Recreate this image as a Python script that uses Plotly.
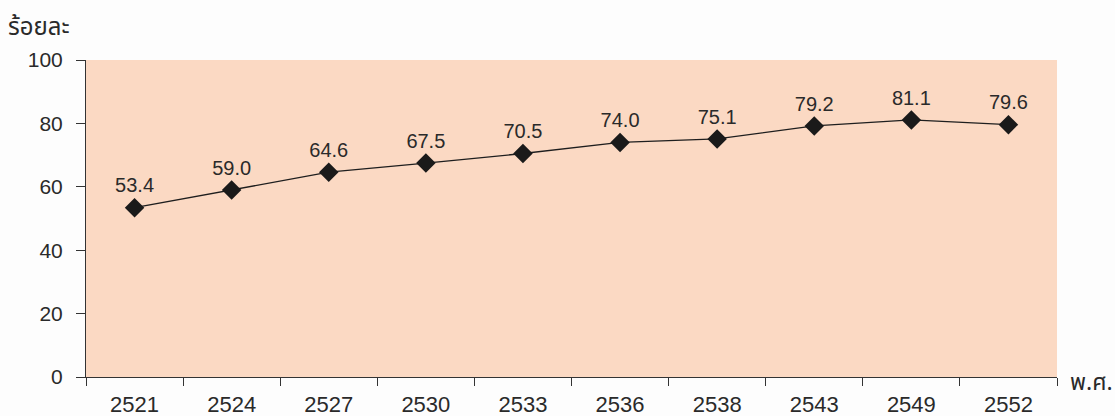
import plotly.graph_objects as go

years = ["2521", "2524", "2527", "2530", "2533", "2536", "2538", "2543", "2549", "2552"]
values = [53.4, 59.0, 64.6, 67.5, 70.5, 74.0, 75.1, 79.2, 81.1, 79.6]
labels = ["53.4", "59.0", "64.6", "67.5", "70.5", "74.0", "75.1", "79.2", "81.1", "79.6"]
y_ticks = [0, 20, 40, 60, 80, 100]

fig = go.Figure()
fig.add_trace(go.Scatter(
    x=years, y=values, mode="lines+markers+text",
    text=labels, textposition="top center",
    textfont=dict(size=20, color="#2a2a2a", family="Liberation Sans, Arial, sans-serif"),
    line=dict(color="#1e1e1e", width=1.3),
    marker=dict(symbol="diamond", size=15, color="#1a1a1a"),
    cliponaxis=False, showlegend=False,
))

fig.update_layout(
    width=1115, height=416,
    margin=dict(l=86, r=58, t=60, b=39),
    paper_bgcolor="#fdfdfd", plot_bgcolor="#fbd9c3",
    font=dict(family="Liberation Sans, Arial, sans-serif", size=20, color="#2a2a2a"),
    xaxis=dict(type="category", range=[-0.5, 9.5], tickson="boundaries",
               ticks="outside", ticklen=8, tickcolor="#333",
               showline=True, linecolor="#333", linewidth=1,
               showgrid=False, tickfont=dict(size=22), automargin=False,
               ticklabelstandoff=8),
    yaxis=dict(range=[0, 100], tickvals=y_ticks, ticks="outside", ticklen=9,
               tickcolor="#333", showline=True, linecolor="#333", linewidth=1,
               showgrid=False, zeroline=False, tickfont=dict(size=21),
               automargin=False, ticklabelstandoff=9),
    annotations=[
        dict(text="ร้อยละ", xref="paper", yref="paper", x=-0.082, y=1.10,
             xanchor="left", yanchor="middle", showarrow=False,
             font=dict(size=24, family="Noto Sans Thai, Noto Sans, sans-serif")),
        dict(text="พ.ศ.", xref="paper", yref="paper", x=1.011, y=-0.02,
             xanchor="left", yanchor="middle", showarrow=False,
             font=dict(size=23, family="Noto Sans Thai, Noto Sans, sans-serif")),
    ],
)
fig.write_html("out.html", config={"displayModeBar": False},
               post_script="document.body.style.margin='0';")
